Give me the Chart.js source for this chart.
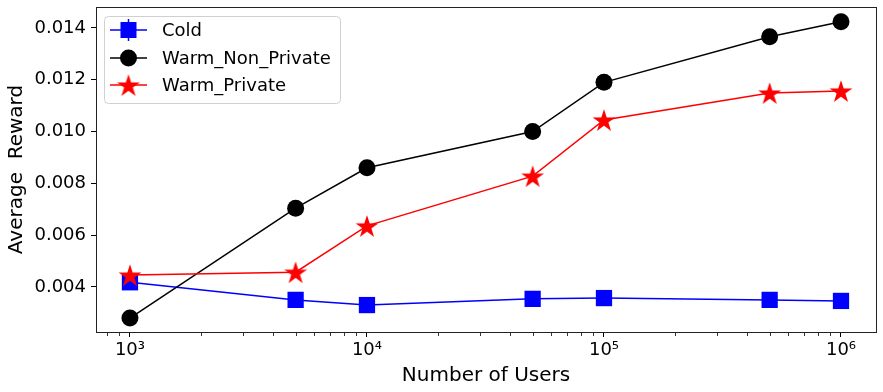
<!DOCTYPE html>
<html>
<head>
<meta charset="utf-8">
<script src="https://cdn.jsdelivr.net/npm/chart.js@4.4.1/dist/chart.umd.min.js"></script>
<style>
    html, body { margin: 0; background: #fff; }
    #wrap { width: 883px; height: 392px; }
</style>
</head>
<body>
<div id="wrap"><canvas id="chart"></canvas></div>
<script>
// values
const users = [1e3, 5e3, 1e4, 5e4, 1e5, 5e5, 1e6];
const cold = [0.00418, 0.00350, 0.00330, 0.00354, 0.00357, 0.00350, 0.00346];
const warmNonPrivate = [0.00280, 0.00704, 0.00860, 0.01000, 0.01190, 0.01366, 0.01424];
const warmPrivate = [0.00446, 0.00457, 0.00636, 0.00828, 0.01045, 0.01149, 0.01157];
const yTicks = [0.004, 0.006, 0.008, 0.010, 0.012, 0.014];
const xMajor = [1e3, 1e4, 1e5, 1e6];
const xLabels = ["10³", "10⁴", "10⁵", "10⁶"];

const FONT = '"DejaVu Sans", sans-serif';
const xMin = 719, xMax = 1.405e6;

// minor tick positions 2..9 x 10^n inside the range
const xMinor = [];
for (let p = 2; p <= 6; p++) {
    for (let m = 2; m <= 9; m++) {
        const v = m * Math.pow(10, p);
        if (v > xMin && v < xMax) xMinor.push(v);
    }
}

// filled five point star like matplotlib's "*"
function makeStar(r) {
    const c = document.createElement("canvas");
    const s = Math.ceil(r * 2 + 2);
    c.width = s; c.height = s;
    const g = c.getContext("2d");
    g.translate(s / 2, s / 2 + r * 0.1);
    g.beginPath();
    for (let i = 0; i < 10; i++) {
        const rad = i % 2 === 0 ? r : r * 0.382;
        const a = -Math.PI / 2 + i * Math.PI / 5;
        g.lineTo(rad * Math.cos(a), rad * Math.sin(a));
    }
    g.closePath();
    g.fillStyle = "#ff0000";
    g.fill();
    return c;
}
const star = makeStar(12);

const toPts = arr => users.map((u, i) => ({x: u, y: arr[i]}));

const series = [
    {label: "Cold", data: cold, color: "#0000ff", style: "rect", radius: 11.5, order: 3},
    {label: "Warm_Non_Private", data: warmNonPrivate, color: "#000000", style: "circle", radius: 8.5, order: 2},
    {label: "Warm_Private", data: warmPrivate, color: "#ff0000", style: star, radius: 12, order: 1}
];

// axes box plus the short minor ticks of the log axis
const frame = {
    id: "frame",
    afterDatasetsDraw(chart) {
        const {ctx, chartArea: a} = chart;
        const xs = chart.scales.x;
        ctx.save();
        ctx.strokeStyle = "#222";
        ctx.lineWidth = 1;
        ctx.strokeRect(a.left + 0.5, a.top + 0.5, a.right - a.left, a.bottom - a.top);
        ctx.strokeStyle = "#000";
        ctx.lineWidth = 0.8;
        ctx.beginPath();
        xMinor.forEach(v => {
            const px = Math.round(xs.getPixelForValue(v)) + 0.5;
            ctx.moveTo(px, a.bottom + 1);
            ctx.lineTo(px, a.bottom + 4);
        });
        ctx.stroke();
        ctx.restore();
    }
};

const legendBox = {
    id: "legendBox",
    afterDraw(chart) {
        const {ctx} = chart;
        const x = 104, y = 16, w = 236, h = 87;
        ctx.save();
        ctx.fillStyle = "rgba(255,255,255,0.8)";
        ctx.strokeStyle = "#d0d0d0";
        ctx.lineWidth = 1;
        ctx.beginPath();
        ctx.roundRect(x + 0.5, y + 0.5, w, h, 4);
        ctx.fill();
        ctx.stroke();

        const rows = [30, 58, 85];
        ctx.font = "18px " + FONT;
        ctx.textBaseline = "middle";
        series.forEach((s, i) => {
            const cy = rows[i];
            ctx.strokeStyle = s.color;
            ctx.lineWidth = 1.5;
            ctx.beginPath();
            ctx.moveTo(110, cy);
            ctx.lineTo(147, cy);
            ctx.stroke();
            if (i === 0) {
                ctx.beginPath();
                ctx.moveTo(128.5, cy - 11);
                ctx.lineTo(128.5, cy + 11);
                ctx.stroke();
            }
            ctx.fillStyle = s.color;
            if (s.style === "rect") {
                ctx.fillRect(128.5 - 8, cy - 8, 16, 16);
            } else if (s.style === "circle") {
                ctx.beginPath();
                ctx.arc(128.5, cy, 8.5, 0, Math.PI * 2);
                ctx.fill();
            } else {
                ctx.drawImage(star, 128.5 - star.width / 2, cy - star.height / 2);
            }
            ctx.fillStyle = "#000";
            ctx.fillText(s.label, 162, cy + 1);
        });
        ctx.restore();
    }
};

new Chart(document.getElementById("chart"), {
    type: "line",
    data: {
        datasets: series.map(s => ({
            label: s.label,
            data: toPts(s.data),
            borderColor: s.color,
            backgroundColor: s.color,
            borderWidth: 1.5,
            pointStyle: s.style,
            pointRadius: s.radius,
            pointHoverRadius: s.radius,
            pointBorderWidth: 0,
            order: s.order,
            tension: 0
        }))
    },
    options: {
        responsive: true,
        maintainAspectRatio: false,
        animation: false,
        layout: {autoPadding: false, padding: {top: 7, right: 7, left: 0, bottom: 0}},
        plugins: {legend: {display: false}, tooltip: {enabled: false}},
        scales: {
            x: {
                type: "logarithmic",
                min: xMin,
                max: xMax,
                afterBuildTicks: scale => {
                    scale.ticks = xMajor.map(v => ({value: v}));
                },
                afterFit: scale => {
                    scale.height = 60;
                    scale.paddingLeft = 0;
                    scale.paddingRight = 0;
                },
                ticks: {
                    autoSkip: false,
                    maxRotation: 0,
                    padding: 3,
                    color: "#000",
                    font: {family: FONT, size: 18},
                    callback: v => {
                        const i = xMajor.indexOf(v);
                        return i >= 0 ? xLabels[i] : "";
                    }
                },
                grid: {
                    drawOnChartArea: false,
                    tickLength: 5,
                    tickColor: "#000",
                    tickWidth: 1
                },
                border: {display: false},
                title: {
                    display: true,
                    text: "Number of Users",
                    color: "#000",
                    font: {family: FONT, size: 20},
                    padding: {top: 0, bottom: 4}
                }
            },
            y: {
                type: "linear",
                min: 0.00226,
                max: 0.01481,
                afterBuildTicks: scale => { scale.ticks = yTicks.map(v => ({value: v})); },
                afterFit: scale => {
                    scale.width = 96;
                    scale.paddingTop = 0;
                    scale.paddingBottom = 0;
                },
                ticks: {
                    padding: 5,
                    color: "#000",
                    font: {family: FONT, size: 18},
                    callback: v => v.toFixed(3)
                },
                grid: {drawOnChartArea: false, tickLength: 5, tickColor: "#000"},
                border: {display: false},
                title: {
                    display: true,
                    text: "Average  Reward",
                    color: "#000",
                    font: {family: FONT, size: 20},
                    padding: {top: 5, bottom: 4}
                }
            }
        }
    },
    plugins: [frame, legendBox]
});
</script>
</body>
</html>
